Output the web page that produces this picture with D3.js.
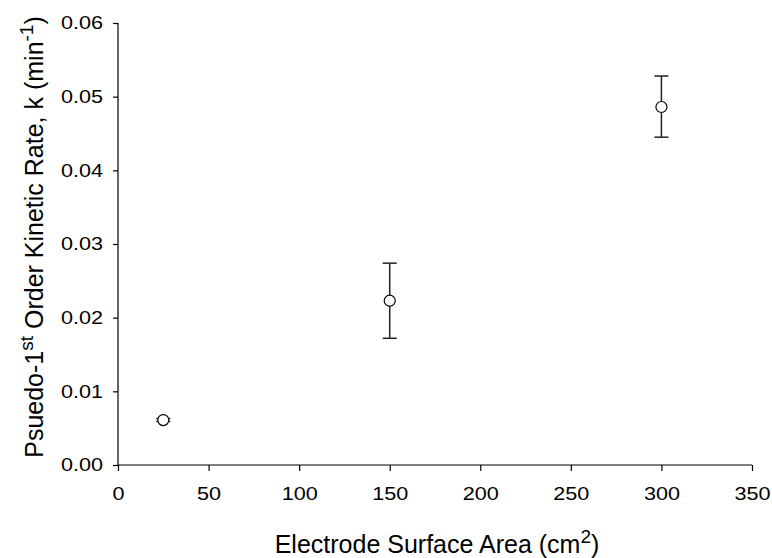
<!DOCTYPE html>
<html>
<head>
<meta charset="utf-8">
<script src="https://cdn.jsdelivr.net/npm/d3@7"></script>
<style>
  body { margin: 0; background: white; }
  text { font-family: "Liberation Sans", Arial, sans-serif; fill: black; }
</style>
</head>
<body>
<svg id="chart" width="772" height="558"></svg>
<script>
const svg = d3.select("#chart");

// data
const areas = [25, 150, 300];
const rates = [0.0061, 0.0223, 0.0486];
const errLow = [0.0059, 0.0172, 0.0445];
const errHigh = [0.0063, 0.0274, 0.0528];
const xTicks = [0, 50, 100, 150, 200, 250, 300, 350];
const yTicks = [0, 0.01, 0.02, 0.03, 0.04, 0.05, 0.06];

const points = areas.map((a, i) => ({ x: a, y: rates[i], lo: errLow[i], hi: errHigh[i] }));

// plot box
const plotLeft = 118, plotRight = 752, plotTop = 23, plotBottom = 465;

const x = d3.scaleLinear().domain([0, 350]).range([plotLeft, plotRight]);
const y = d3.scaleLinear().domain([0, 0.06]).range([plotBottom, plotTop]);

// x axis
const xAxis = svg.append("g")
    .attr("transform", `translate(0,${plotBottom})`)
    .call(d3.axisBottom(x).tickValues(xTicks).tickSize(6).tickPadding(16).tickFormat(d3.format("d")));
xAxis.select(".domain").attr("d", `M${plotLeft},0H${plotRight}`);

// y axis
const yAxis = svg.append("g")
    .attr("transform", `translate(${plotLeft},0)`)
    .call(d3.axisLeft(y).tickValues(yTicks).tickSize(5).tickPadding(10).tickFormat(d3.format(".2f")));
yAxis.select(".domain").attr("d", `M0,${plotBottom}V${plotTop}`);

// tick labels in the reference are a bit wider than the font's own shapes
svg.selectAll(".tick text")
    .attr("font-size", "18px")
    .attr("font-family", "Liberation Sans, Arial, sans-serif")
    .each(function() {
        const w = this.getComputedTextLength();
        d3.select(this).attr("textLength", w * 1.2).attr("lengthAdjust", "spacingAndGlyphs");
    });
svg.selectAll(".domain, .tick line").attr("stroke", "black").attr("stroke-width", 1.2);

// error bars
const capW = 7;
const bars = svg.append("g").attr("stroke", "#222").attr("stroke-width", 1.5);
bars.selectAll("line.err")
    .data(points)
    .enter().append("line")
    .attr("class", "err")
    .attr("x1", d => x(d.x)).attr("x2", d => x(d.x))
    .attr("y1", d => y(d.lo)).attr("y2", d => y(d.hi));
bars.selectAll("line.capHi")
    .data(points)
    .enter().append("line")
    .attr("class", "capHi")
    .attr("x1", d => x(d.x) - capW).attr("x2", d => x(d.x) + capW)
    .attr("y1", d => y(d.hi)).attr("y2", d => y(d.hi));
bars.selectAll("line.capLo")
    .data(points)
    .enter().append("line")
    .attr("class", "capLo")
    .attr("x1", d => x(d.x) - capW).attr("x2", d => x(d.x) + capW)
    .attr("y1", d => y(d.lo)).attr("y2", d => y(d.lo));

// markers
svg.selectAll("circle.pt")
    .data(points)
    .enter().append("circle")
    .attr("class", "pt")
    .attr("cx", d => x(d.x))
    .attr("cy", d => y(d.y))
    .attr("r", 5.5)
    .attr("fill", "white")
    .attr("stroke", "black")
    .attr("stroke-width", 1.2);

// x title
const xt = svg.append("text")
    .attr("x", 437)
    .attr("y", 553)
    .attr("text-anchor", "middle")
    .attr("font-size", "25px");
xt.append("tspan").text("Electrode Surface Area (cm");
xt.append("tspan").attr("dy", -10).attr("font-size", "19px").text("2");
xt.append("tspan").attr("dy", 10).text(")");

// y title
const yt = svg.append("text")
    .attr("transform", `translate(43,237) rotate(-90)`)
    .attr("text-anchor", "middle")
    .attr("font-size", "25px");
yt.append("tspan").text("Psuedo-1");
yt.append("tspan").attr("dy", -10).attr("font-size", "19px").text("st");
yt.append("tspan").attr("dy", 10).text(" Order Kinetic Rate, k (min");
yt.append("tspan").attr("dy", -10).attr("font-size", "19px").text("-1");
yt.append("tspan").attr("dy", 10).text(")");
</script>
</body>
</html>
